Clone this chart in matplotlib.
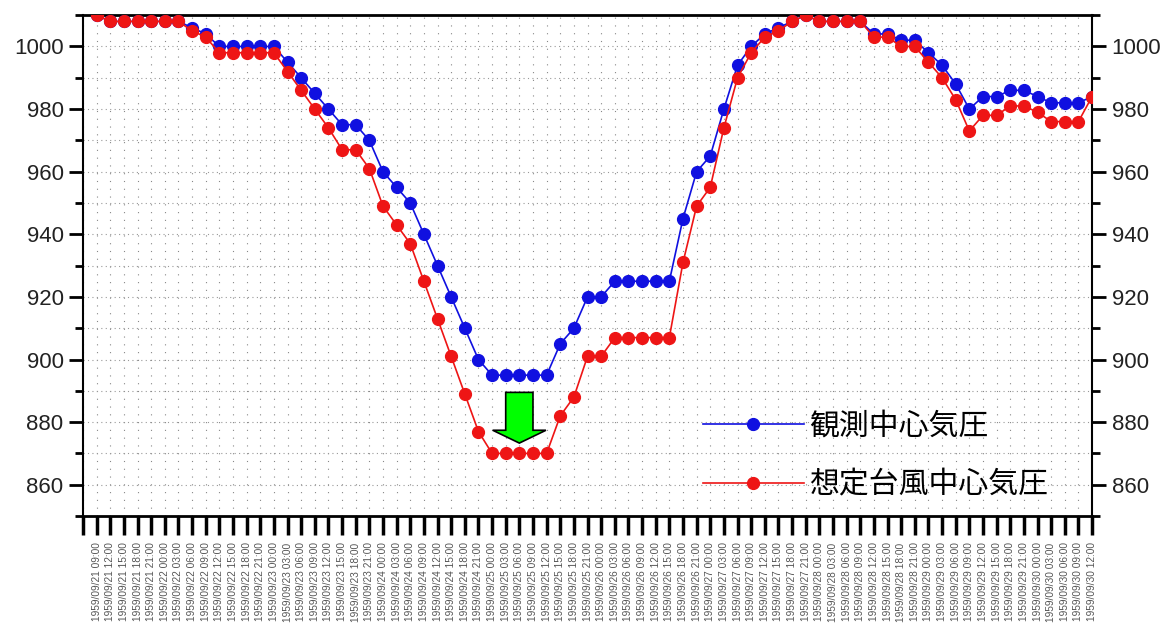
import numpy as np
import pandas as pd
import matplotlib
matplotlib.use('Agg')
import matplotlib.pyplot as plt
from matplotlib.patches import FancyArrow
from matplotlib.ticker import MultipleLocator, FixedLocator

plt.rcParams['font.family'] = ['Liberation Sans', 'Noto Sans CJK JP', 'DejaVu Sans']

# Data
##########################################
observed = [1010,
            1008, 1008, 1008, 1008, 1008, 1008,
            1006, 1004,
            1000, 1000, 1000, 1000, 1000,
            995, 990, 985, 980, 975, 975, 970, 960, 955, 950, 940, 930, 920, 910, 900,
            895, 895, 895, 895, 895,
            905, 910, 920, 920,
            925, 925, 925, 925, 925,
            945, 960, 965, 980, 994, 1000, 1004, 1006, 1008,
            1010,
            1008, 1008, 1008, 1008,
            1004, 1004, 1002, 1002, 998, 994, 988, 980, 984, 984, 986, 986, 984, 982, 982, 982, 984]

assumed = [1010,
           1008, 1008, 1008, 1008, 1008, 1008,
           1005, 1003,
           998, 998, 998, 998, 998,
           992, 986, 980, 974, 967, 967, 961, 949, 943, 937, 925, 913, 901, 889, 877,
           870, 870, 870, 870, 870,
           882, 888, 901, 901,
           907, 907, 907, 907, 907,
           931, 949, 955, 974, 990, 998, 1003, 1005, 1008,
           1010,
           1008, 1008, 1008, 1008,
           1003, 1003, 1000, 1000, 995, 990, 983, 973, 978, 978, 981, 981, 979, 976, 976, 976, 984]

series_names = ['観測中心気圧', '想定台風中心気圧']

# time labels are unreadable in the source, so approximate them
time_labels = [t.strftime('%Y/%m/%d %H:%M')
               for t in pd.date_range('1959-09-21 09:00', periods=len(observed), freq='3h')]

y_ticks = [860, 880, 900, 920, 940, 960, 980, 1000]


# Plot
##########################################
fig = plt.figure(figsize=(11.72, 6.32), dpi=100)
ax = fig.add_axes([0.0708, 0.1835, 0.861, 0.7925])

x = np.arange(len(observed))
ax.plot(x, observed, '-o', color='#1010e0', lw=1.2, ms=8.5, mec='#1010e0', label=series_names[0], zorder=3)
ax.plot(x, assumed, '-o', color='#ee1515', lw=1.2, ms=8.5, mec='#ee1515', label=series_names[1], zorder=4)

# green arrow pointing at the minimum
arrow = FancyArrow(31, 889.5, 0, -16.2, width=2.0, head_width=3.9, head_length=4.1,
                   length_includes_head=True, fc='#00ff00', ec='black', lw=1.2, zorder=5)
ax.add_patch(arrow)

ax.set_xlim(-1, len(observed) - 1)
ax.set_ylim(850, 1010)

ax.yaxis.set_major_locator(FixedLocator(y_ticks))
ax.yaxis.set_minor_locator(MultipleLocator(10))
ax.tick_params(axis='y', which='both', left=True, right=True, labelleft=True, labelright=True,
               direction='out', labelsize=16, labelcolor='#222222', width=2)
ax.tick_params(axis='y', which='major', length=10, pad=4)
ax.tick_params(axis='y', which='minor', length=6)

ax.set_xticks(np.arange(-1, len(observed)))
ax.set_xticklabels([''] + time_labels, rotation=90, fontsize=7.3, color='#555555')
ax.tick_params(axis='x', direction='out', length=14, width=2.5, pad=5)

ax.grid(True, axis='x', which='major', color='#888888', linestyle=(0, (1, 6)), lw=0.8)
ax.grid(True, axis='y', which='both', color='#999999', linestyle=(0, (1, 3)), lw=0.8)

for side in ['left', 'right', 'top', 'bottom']:
    ax.spines[side].set_linewidth(1.5)
ax.spines['top'].set_linewidth(2)
ax.spines['bottom'].set_linewidth(2)

ax.legend(loc='upper left', bbox_to_anchor=(0.614, 0.2106), frameon=False,
          prop={'family': ['Noto Sans CJK JP'], 'size': 21.5},
          handlelength=3.4, handletextpad=0.17, labelspacing=0.94, borderpad=0, borderaxespad=0)

fig.savefig('out.png', dpi=100)
